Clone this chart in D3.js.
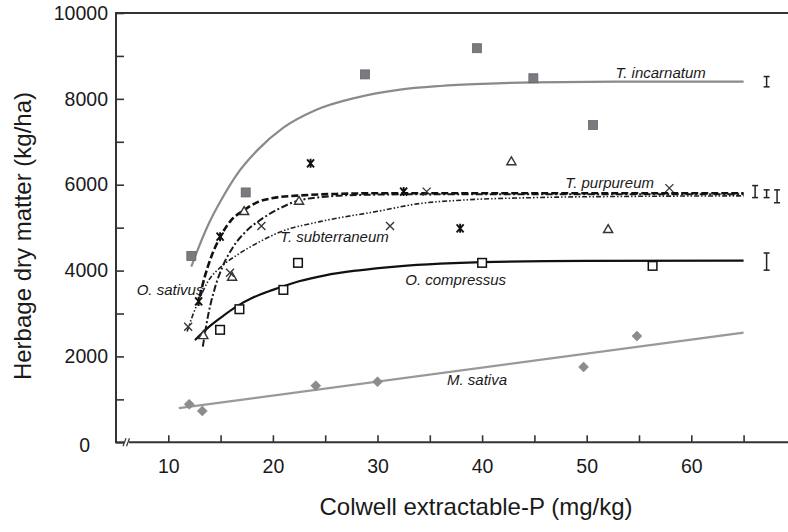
<!DOCTYPE html>
<html><head><meta charset="utf-8">
<script src="https://cdn.jsdelivr.net/npm/d3@7/dist/d3.min.js"></script>
<style>
html,body{margin:0;padding:0;background:#fff;}
svg{display:block;font-family:"Liberation Sans",Arial,sans-serif;}
</style></head>
<body>
<svg id="chart" width="788" height="532"></svg>
<script>
// ---- data ----
const xTickValues = [10,15,20,25,30,35,40,45,50,55,60,65];
const xTickLabels = [10,20,30,40,50,60];
const yTickValues = [0,1000,2000,3000,4000,5000,6000,7000,8000,9000,10000];
const yTickLabels = [0,2000,4000,6000,8000,10000];

const species = ["T. incarnatum","T. purpureum","O. sativus","T. subterraneum","O. compressus","M. sativa"];

const incarnatumPts = [[12.2,4340],[17.4,5820],[28.8,8570],[39.5,9180],[44.9,8480],[50.6,7390]];
const incarnatumFit = [[12.2,4090],[13,4600],[14,5160],[15,5620],[16.5,6220],[18.5,6800],[21,7330],[24,7730],[28,8030],[32,8210],[36,8300],[40,8350],[45,8385],[55,8400],[65,8400]];

const purpureumPts = [[13.35,2500],[16.1,3860],[17.25,5390],[22.5,5630],[42.8,6550],[52.05,4970]];
const purpureumFit = [[13.3,2230],[13.8,2950],[14.4,3550],[15.2,4100],[16.2,4550],[17.5,4930],[18.8,5180],[20.5,5430],[22.3,5620],[25,5720],[28,5760],[35,5780],[65,5780]];

const sativusPts = [[12.9,3280],[14.95,4790],[23.6,6500],[32.5,5840],[37.9,4985]];
const sativusFit = [[13.0,3390],[13.5,3870],[14,4250],[15,4800],[16,5170],[17.2,5400],[18.5,5590],[20,5690],[22.3,5745],[26,5785],[30,5800],[65,5800]];

const subterraneumPts = [[11.9,2690],[15.9,3950],[18.9,5040],[31.2,5040],[34.7,5840],[57.9,5920]];
const subterraneumFit = [[11.8,2580],[12.4,3000],[13.0,3350],[13.8,3750],[15,4080],[16.5,4350],[18.8,4680],[20.7,4900],[24.5,5140],[30,5380],[34,5560],[38,5640],[45,5700],[55,5730],[65,5740]];

const compressusPts = [[14.95,2620],[16.8,3100],[21.0,3550],[22.4,4180],[40.0,4180],[56.3,4110]];
const compressusFit = [[12.55,2380],[14,2710],[15,2900],[16.5,3160],[18,3360],[20,3550],[22.5,3750],[25,3890],[28,4000],[32,4100],[36,4160],[40,4195],[50,4225],[65,4230]];

const sativaPts = [[12.0,885],[13.25,730],[24.1,1320],[30.0,1410],[49.7,1755],[54.8,2475]];
const sativaFit = [[11,795],[65,2555]];

const errX = [67.2,66.1,67.2,68.2,67.2];
const errY = [8400,5840,5790,5730,4210];
const errE = [120,140,90,150,200];

// ---- drawing ----
const svg = d3.select("#chart");
const x = d3.scaleLinear().domain([10,65]).range([168.3,743.6]);
const y = d3.scaleLinear().domain([0,10000]).range([442.3,13]);
const axisColor = "#333";
const textColor = "#1a1a1a";

// frame (cropped box) with axis break
const axX = 116, axY = y(0), topY = y(10000);
svg.append("line").attr("x1",axX).attr("x2",axX).attr("y1",topY).attr("y2",axY).attr("stroke",axisColor).attr("stroke-width",2);
svg.append("line").attr("x1",axX-1).attr("x2",788).attr("y1",topY).attr("y2",topY).attr("stroke",axisColor).attr("stroke-width",2);
svg.append("line").attr("x1",axX-1).attr("x2",124).attr("y1",axY).attr("y2",axY).attr("stroke",axisColor).attr("stroke-width",2);
svg.append("line").attr("x1",129).attr("x2",788).attr("y1",axY).attr("y2",axY).attr("stroke",axisColor).attr("stroke-width",2);
[124.5,128].forEach(bx=>{
  svg.append("line").attr("x1",bx-1.5).attr("x2",bx+1.5).attr("y1",axY+4).attr("y2",axY-4).attr("stroke",axisColor).attr("stroke-width",1.2);
});

// x axis
const gx = svg.append("g").attr("transform",`translate(0,${axY})`)
  .call(d3.axisBottom(x).tickValues(xTickValues).tickSizeInner(-7).tickSizeOuter(0).tickPadding(17)
    .tickFormat(d=> xTickLabels.includes(d) ? d : ""));
gx.select(".domain").remove();
gx.selectAll(".tick line").attr("stroke",axisColor).attr("stroke-width",1.6);
gx.selectAll(".tick text").attr("fill",textColor).style("font-size","19.5px");

// y axis
const gy = svg.append("g").attr("transform",`translate(${axX},0)`)
  .call(d3.axisLeft(y).tickValues(yTickValues).tickSizeInner(-8).tickSizeOuter(0).tickPadding(8)
    .tickFormat(d=> yTickLabels.includes(d) ? d : ""));
gy.select(".domain").remove();
gy.selectAll(".tick line").attr("stroke",axisColor).attr("stroke-width",1.6);
gy.selectAll(".tick text").attr("fill",textColor).style("font-size","19.5px");
gy.selectAll(".tick").filter(d=>d===0).select("text").attr("x",-26).attr("dy","0.45em");

// titles
svg.append("text").attr("x",476).attr("y",515).attr("text-anchor","middle")
  .attr("fill",textColor).style("font-size","24px").text("Colwell extractable-P (mg/kg)");
svg.append("text").attr("transform","translate(31,236) rotate(-90)").attr("text-anchor","middle")
  .attr("fill",textColor).style("font-size","24px").text("Herbage dry matter (kg/ha)");

// lines
const line = d3.line().x(d=>x(d[0])).y(d=>y(d[1])).curve(d3.curveMonotoneX);
const fits = [
  {d:incarnatumFit, stroke:"#8a8a8a", w:2.2, dash:null},
  {d:compressusFit, stroke:"#111", w:2.2, dash:null},
  {d:sativaFit, stroke:"#999", w:2.4, dash:null},
  {d:subterraneumFit, stroke:"#222", w:1.6, dash:"5,2,1.5,2,1.5,2"},
  {d:purpureumFit, stroke:"#1a1a1a", w:2, dash:"7,2.5,2,2.5"},
  {d:sativusFit, stroke:"#111", w:2.6, dash:"7,3"}
];
fits.forEach(f=>{
  svg.append("path").datum(f.d).attr("d",line).attr("fill","none")
    .attr("stroke",f.stroke).attr("stroke-width",f.w)
    .attr("stroke-dasharray",f.dash);
});

// markers
svg.append("g").selectAll("rect").data(incarnatumPts).join("rect")
  .attr("x",d=>x(d[0])-4.5).attr("y",d=>y(d[1])-4.5).attr("width",9).attr("height",9)
  .attr("fill","#7a7a82").attr("stroke","#666").attr("stroke-width",0.8);

svg.append("g").selectAll("rect").data(compressusPts).join("rect")
  .attr("x",d=>x(d[0])-4.3).attr("y",d=>y(d[1])-4.3).attr("width",8.6).attr("height",8.6)
  .attr("fill","#fff").attr("stroke","#111").attr("stroke-width",1.5);

const tri = d3.symbol().type(d3.symbolTriangle).size(36);
svg.append("g").selectAll("path").data(purpureumPts).join("path")
  .attr("transform",d=>`translate(${x(d[0])},${y(d[1])+1})`).attr("d",tri)
  .attr("fill","#fff").attr("stroke","#333").attr("stroke-width",1.4);

svg.append("g").selectAll("path").data(sativaPts).join("path")
  .attr("transform",d=>`translate(${x(d[0])},${y(d[1])})`).attr("d","M0,-5L5,0L0,5L-5,0Z")
  .attr("fill","#8c8c8c").attr("stroke","#888").attr("stroke-width",0.6);

svg.append("g").selectAll("path").data(subterraneumPts).join("path")
  .attr("transform",d=>`translate(${x(d[0])},${y(d[1])})`)
  .attr("d","M-4,-4L4,4M-4,4L4,-4").attr("stroke","#333").attr("stroke-width",1.3).attr("fill","none");

svg.append("g").selectAll("path").data(sativusPts).join("path")
  .attr("transform",d=>`translate(${x(d[0])},${y(d[1])})`)
  .attr("d","M-3.5,-4L3.5,4M-3.5,4L3.5,-4M0,-4.5L0,4.5").attr("stroke","#111").attr("stroke-width",1.9).attr("fill","none");

// error bars
const eg = svg.append("g").attr("stroke","#222").attr("stroke-width",1.5);
errX.forEach((ex,i)=>{
  const cx = x(ex), y1 = y(errY[i]-errE[i]), y2 = y(errY[i]+errE[i]);
  eg.append("line").attr("x1",cx).attr("x2",cx).attr("y1",y1).attr("y2",y2);
  eg.append("line").attr("x1",cx-3).attr("x2",cx+3).attr("y1",y1).attr("y2",y1);
  eg.append("line").attr("x1",cx-3).attr("x2",cx+3).attr("y1",y2).attr("y2",y2);
});

// species labels (anchor in data units)
const labelAt = [[52.75,8486],[47.96,5930],[6.98,3431],[20.69,4666],[32.65,3664],[36.64,1335]];
species.forEach((s,i)=>{
  svg.append("text").attr("x",x(labelAt[i][0])).attr("y",y(labelAt[i][1]))
    .attr("fill",textColor).style("font-size","15px").style("font-style","italic").text(s);
});
</script>
</body></html>
